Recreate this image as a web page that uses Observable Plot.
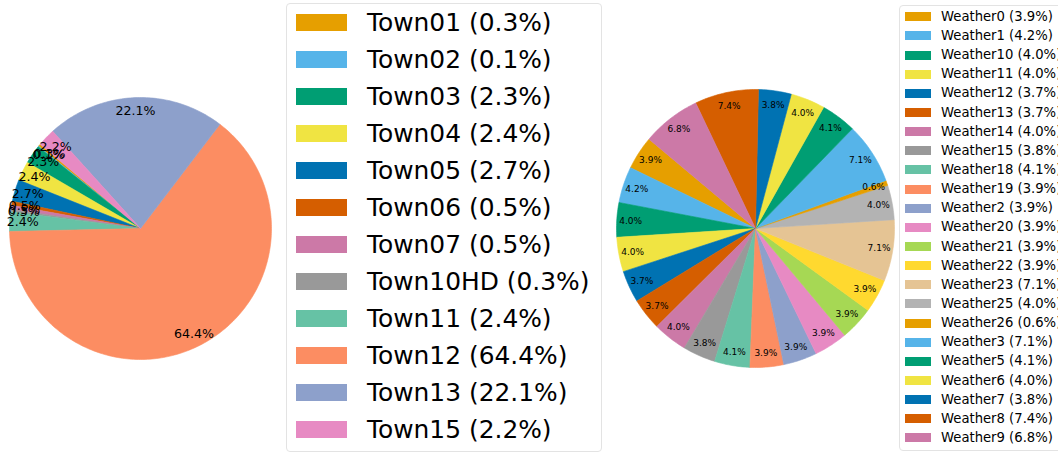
<!DOCTYPE html>
<html><head><meta charset="utf-8">
<script src="https://cdn.jsdelivr.net/npm/d3@7"></script>
<script src="https://cdn.jsdelivr.net/npm/@observablehq/plot@0.6"></script>
<style>
body{margin:0;background:#fff;font-family:"DejaVu Sans",sans-serif;}
#root{position:relative;width:1058px;height:452px;overflow:hidden;background:#fff;}
.legend{position:absolute;border:1px solid #e3e3e3;border-radius:4px;background:#fff;box-sizing:border-box;}
.row{position:absolute;left:0;white-space:nowrap;color:#000;}
.sw{position:absolute;}
</style></head><body><div id="root"></div>
<script>
const towns = ["Town01","Town02","Town03","Town04","Town05","Town06","Town07","Town10HD","Town11","Town12","Town13","Town15"];
const townShares = [0.3,0.1,2.3,2.4,2.7,0.5,0.5,0.3,2.4,64.4,22.1,2.2];
const weathers = ["Weather0","Weather1","Weather10","Weather11","Weather12","Weather13","Weather14","Weather15","Weather18","Weather19","Weather2","Weather20","Weather21","Weather22","Weather23","Weather25","Weather26","Weather3","Weather5","Weather6","Weather7","Weather8","Weather9"];
const weatherShares = [3.9,4.2,4.0,4.0,3.7,3.7,4.0,3.8,4.1,3.9,3.9,3.9,3.9,3.9,7.1,4.0,0.6,7.1,4.1,4.0,3.8,7.4,6.8];
const palette = ["#E69F00","#56B4E9","#009E73","#F0E442","#0072B2","#D55E00","#CC79A7","#999999","#66C2A5","#FC8D62","#8DA0CB","#E78AC3","#A6D854","#FFD92F","#E5C494","#B3B3B3"];
const startAngle = 140;
const labelDistance = 0.9;

function slices(names, values) {
  const total = d3.sum(values);
  let a = startAngle;
  const polys = [], labels = [];
  names.forEach((n, i) => {
    const span = values[i] / total * 360;
    const a0 = a, a1 = a + span; a = a1;
    const steps = Math.max(2, Math.ceil(span));
    polys.push({name: n, x: 0, y: 0});
    for (let k = 0; k <= steps; k++) {
      const t = (a0 + (a1 - a0) * k / steps) * Math.PI / 180;
      polys.push({name: n, x: Math.cos(t), y: Math.sin(t)});
    }
    polys.push({name: n, x: 0, y: 0});
    const m = (a0 + a1) / 2 * Math.PI / 180;
    labels.push({name: n, x: labelDistance * Math.cos(m), y: labelDistance * Math.sin(m), text: values[i].toFixed(1) + "%"});
  });
  return {polys, labels};
}

function pie(names, values, o) {
  const {polys, labels} = slices(names, values);
  const p = Plot.plot({
    width: o.width, height: o.height,
    marginLeft: o.mL, marginRight: o.mR, marginTop: o.mT, marginBottom: o.mB,
    x: {domain: [-1, 1], axis: null},
    y: {domain: [-1, 1], axis: null},
    color: {domain: names, range: names.map((_, i) => palette[i % palette.length])},
    style: {fontFamily: "DejaVu Sans", background: "transparent", overflow: "visible"},
    marks: [
      Plot.line(polys, {x: "x", y: "y", z: "name", fill: "name", stroke: "name", strokeWidth: 0.6, curve: "linear"}),
      Plot.text(labels, {x: "x", y: "y", text: "text", fontSize: o.fontSize, fill: "black"})
    ]
  });
  p.style.position = "absolute";
  p.style.left = o.left + "px";
  p.style.top = "0px";
  return p;
}

function legend(names, values, o) {
  const box = document.createElement("div");
  box.className = "legend";
  Object.assign(box.style, {left: o.left + "px", top: o.top + "px", width: o.w + "px", height: o.h + "px"});
  names.forEach((n, i) => {
    const cy = o.y0 + i * o.step - o.top - 1;
    const sw = document.createElement("div");
    sw.className = "sw";
    Object.assign(sw.style, {left: (o.swX - o.left - 1) + "px", top: (cy - o.swH / 2) + "px", width: o.swW + "px", height: o.swH + "px", background: palette[i % palette.length]});
    box.appendChild(sw);
    const t = document.createElement("div");
    t.className = "row";
    t.textContent = `${n} (${values[i].toFixed(1)}%)`;
    Object.assign(t.style, {left: (o.textX - o.left - 1) + "px", top: (cy - o.fontSize * 0.6) + "px", fontSize: o.fontSize + "px", lineHeight: (o.fontSize * 1.2) + "px"});
    box.appendChild(t);
  });
  return box;
}

const root = document.getElementById("root");
root.appendChild(pie(towns, townShares, {left: 0, width: 280, height: 452, mL: 9, mR: 9, mT: 97, mB: 93, fontSize: 12.6}));
root.appendChild(pie(weathers, weatherShares, {left: 600, width: 310, height: 452, mL: 16, mR: 16, mT: 89, mB: 85, fontSize: 9}));
root.appendChild(legend(towns, townShares, {left: 286, top: 3, w: 316, h: 449, y0: 22.5, step: 37, swX: 296, swW: 51, swH: 16.5, textX: 367, fontSize: 24.9}));
root.appendChild(legend(weathers, weatherShares, {left: 899, top: 5, w: 170, h: 446, y0: 16.8, step: 19.14, swX: 905, swW: 26, swH: 9, textX: 941, fontSize: 13.2}));
</script></body></html>
